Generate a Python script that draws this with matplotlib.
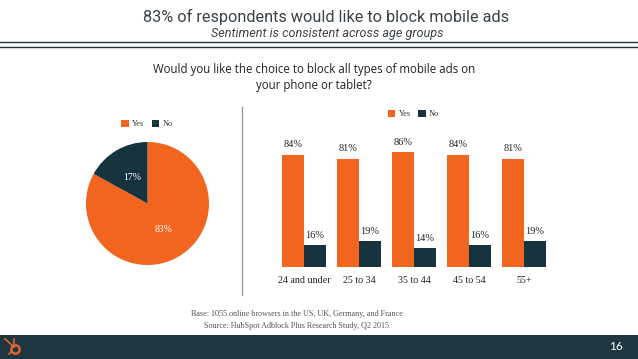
import numpy as np
import matplotlib
matplotlib.use('Agg')
import matplotlib.pyplot as plt
from matplotlib.patches import Rectangle
from matplotlib.lines import Line2D

# Data
pie_labels = ['Yes', 'No']
pie_values = [83, 17]
age_groups = ['24 and under', '25 to 34', '35 to 44', '45 to 54', '55+']
yes_values = [84, 81, 86, 84, 81]
no_values = [16, 19, 14, 16, 19]

orange = '#F2651E'
dark = '#17343E'
band = '#1F3540'
W, H = 638, 359


def px_box(left, top, right, bottom):
    # pixel box (y from top) to figure fractions
    return [left / W, 1 - bottom / H, (right - left) / W, (bottom - top) / H]


def fx(x):
    return x / W


def fy(y):
    return 1 - y / H


fig = plt.figure(figsize=(W / 100, H / 100), dpi=100, facecolor='white')

# Header
fig.text(fx(326), fy(17), '83% of respondents would like to block mobile ads', ha='center', va='center',
         fontsize=11.7, family='Roboto', color='#3a4247')
fig.text(fx(327), fy(34), 'Sentiment is consistent across age groups', ha='center', va='center',
         fontsize=9.1, family='Roboto', style='italic', color='#3a4247')
fig.add_artist(Line2D([0, 1], [fy(41.5), fy(41.5)], color=band, lw=1))
fig.add_artist(Line2D([0, 1], [fy(46.5), fy(46.5)], color=band, lw=1))

# Question
fig.text(fx(314), fy(70), 'Would you like the choice to block all types of mobile ads on', ha='center', va='center',
         fontsize=8.3, family='Open Sans', color='#222222')
fig.text(fx(314), fy(85), 'your phone or tablet?', ha='center', va='center',
         fontsize=8.3, family='Open Sans', color='#222222')

# Pie
ax_pie = fig.add_axes(px_box(86, 142, 209, 265))
wedges, pie_texts, pct_texts = ax_pie.pie(pie_values, colors=[orange, dark], startangle=90, counterclock=False,
                                          autopct='%d%%', pctdistance=0.5, radius=1,
                                          textprops={'family': 'Liberation Serif', 'fontsize': 7, 'color': 'white'})
ax_pie.set_xlim(-1, 1)
ax_pie.set_ylim(-1, 1)
fig.legend(wedges, pie_labels, loc='center', bbox_to_anchor=(fx(147), fy(124)), ncol=2, frameon=False,
           prop={'family': 'Liberation Serif', 'size': 6}, handlelength=0.9, handleheight=0.9,
           handletextpad=0.4, columnspacing=0.9, labelcolor='#333333')

# Divider
fig.add_artist(Line2D([fx(241.5), fx(241.5)], [fy(107), fy(295)], color='#999999', lw=1))

# Bars
ax_bar = fig.add_axes(px_box(270, 133.7, 558, 266.7))
x = np.arange(len(age_groups))
bar_w = 0.4
bars_yes = ax_bar.bar(x - bar_w / 2, yes_values, bar_w, color=orange, label='Yes')
bars_no = ax_bar.bar(x + bar_w / 2, no_values, bar_w, color=dark, label='No')
ax_bar.set_xlim(-34 / 55, 254 / 55)
ax_bar.set_ylim(0, 100)
ax_bar.patch.set_alpha(0)
for s in ax_bar.spines.values():
    s.set_visible(False)
ax_bar.set_yticks([])
ax_bar.set_xticks(x)
ax_bar.set_xticklabels(age_groups, family='Liberation Serif', fontsize=7.2, color='#222222')
ax_bar.tick_params(axis='x', length=0, pad=7)
for bars in (bars_yes, bars_no):
    ax_bar.bar_label(bars, fmt='%d%%', padding=4, family='Liberation Serif', fontsize=7.5, color='#222222')
fig.legend(handles=[bars_yes, bars_no], labels=['Yes', 'No'], loc='center', bbox_to_anchor=(fx(413.5), fy(114)),
           ncol=2, frameon=False, prop={'family': 'Liberation Serif', 'size': 6}, handlelength=0.9, handleheight=0.9,
           handletextpad=0.4, columnspacing=0.9, labelcolor='#333333')

# Source lines
fig.text(fx(296.5), fy(314.5), 'Base: 1055 online browsers in the US, UK, Germany, and France', ha='center', va='center',
         fontsize=5.9, family='Liberation Serif', color='#555555')
fig.text(fx(296.5), fy(326.5), 'Source: HubSpot Adblock Plus Research Study, Q2 2015', ha='center', va='center',
         fontsize=5.9, family='Liberation Serif', color='#555555')

# Footer band with logo and page number
fig.add_artist(Rectangle((0, 0), 1, fy(335), transform=fig.transFigure, color=band, lw=0))
fig.text(fx(616), fy(346), '16', ha='center', va='center', fontsize=8.5, family='Lato', color='white')
logo = '#D9682F'
fig.add_artist(Line2D([fx(5), fx(14)], [fy(339), fy(347)], color=logo, lw=1.2))
fig.add_artist(Line2D([fx(14), fx(14)], [fy(339), fy(347)], color=logo, lw=1.2))
fig.add_artist(Line2D([fx(12), fx(9)], [fy(351), fy(354)], color=logo, lw=1.2))
fig.add_artist(Line2D([fx(14.5)], [fy(348.5)], marker='o', mfc='none', mec=logo, ms=6, mew=1.8))

fig.savefig('out.png', dpi=100)
